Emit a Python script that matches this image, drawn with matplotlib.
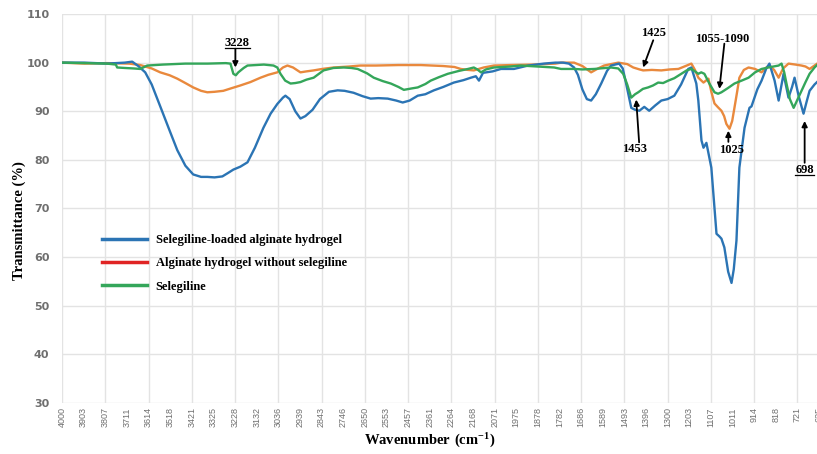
import matplotlib.pyplot as plt
import numpy as np
from matplotlib.lines import Line2D

# FTIR spectra: (wavenumber cm-1, transmittance %)
loaded_gel = np.array([
    [4000, 100], [3900, 100], [3800, 99.8], [3720, 100], [3687, 100.2],
    [3660, 99.3], [3629, 98], [3600, 95.5], [3562, 91], [3520, 86],
    [3486, 82], [3450, 78.8], [3415, 77], [3380, 76.5], [3352, 76.5],
    [3320, 76.4], [3285, 76.6], [3260, 77.3], [3236, 78], [3205, 78.6],
    [3173, 79.5], [3140, 82.5], [3102, 86.6], [3070, 89.5], [3040, 91.5],
    [3015, 92.8], [3004, 93.2], [2985, 92.5], [2960, 90], [2937, 88.5],
    [2915, 89], [2883, 90.3], [2850, 92.5], [2810, 94], [2771, 94.3],
    [2740, 94.2], [2700, 93.8], [2660, 93.1], [2624, 92.6], [2590, 92.7],
    [2548, 92.6], [2510, 92.2], [2481, 91.8], [2450, 92.2], [2414, 93.2],
    [2380, 93.5], [2342, 94.3], [2300, 95], [2253, 95.9], [2210, 96.4],
    [2177, 96.9], [2155, 97.2], [2141, 96.3], [2123, 97.9], [2080, 98.2],
    [2043, 98.7], [1985, 98.7], [1922, 99.4], [1851, 99.8], [1800, 100],
    [1766, 100], [1740, 99.8], [1717, 99], [1700, 97.5], [1680, 94.5],
    [1660, 92.5], [1641, 92.2], [1620, 93.5], [1596, 95.7], [1570, 98.3],
    [1552, 99.4], [1516, 99.8], [1500, 98.8], [1485, 95.7], [1462, 90.7],
    [1445, 90.3], [1426, 90.1], [1404, 90.9], [1382, 90.1], [1355, 91.2],
    [1328, 92.2], [1300, 92.5], [1270, 93.2], [1240, 95.5], [1208, 98.7],
    [1194, 99], [1172, 95.7], [1163, 92.2], [1149, 84], [1140, 82.5],
    [1127, 83.5], [1105, 78.4], [1082, 64.8], [1070, 64.3], [1060, 63.8],
    [1047, 62], [1030, 57], [1015, 54.7], [1005, 57.5], [993, 63.4],
    [980, 78.4], [957, 86.6], [935, 90.7], [926, 91], [900, 94.5],
    [881, 96.3], [860, 98.8], [846, 99.8], [823, 96.3], [805, 92.2],
    [783, 97.7], [761, 92.8], [745, 95], [734, 96.9], [715, 93],
    [694, 89.5], [680, 92], [667, 94.2], [645, 95.5], [627, 96.3],
])

plain_gel = np.array([
    [4000, 100], [3900, 99.8], [3800, 99.9], [3700, 99.8], [3651, 99.5],
    [3600, 98.8], [3562, 98], [3520, 97.4], [3486, 96.7], [3450, 95.8],
    [3415, 94.9], [3380, 94.2], [3352, 93.9], [3320, 94], [3281, 94.2],
    [3240, 94.8], [3205, 95.3], [3160, 96], [3115, 96.9], [3080, 97.5],
    [3040, 98], [3015, 99], [2995, 99.4], [2970, 99], [2937, 98],
    [2910, 98.2], [2878, 98.4], [2840, 98.7], [2789, 99], [2720, 99.2],
    [2669, 99.4], [2600, 99.4], [2500, 99.5], [2400, 99.5], [2300, 99.3],
    [2250, 99.1], [2222, 98.7], [2190, 98.5], [2164, 98.4], [2120, 99],
    [2074, 99.4], [2000, 99.5], [1900, 99.6], [1800, 99.8], [1775, 100],
    [1717, 100], [1680, 99.3], [1641, 98], [1610, 98.8], [1583, 99.4],
    [1520, 100], [1480, 99.7], [1453, 99], [1425, 98.6], [1409, 98.4],
    [1370, 98.5], [1328, 98.4], [1290, 98.6], [1252, 98.7], [1220, 99.3],
    [1194, 99.8], [1178, 98.5], [1163, 96.9], [1140, 95.9], [1118, 96.7],
    [1105, 94], [1091, 91.6], [1075, 90.8], [1060, 90.1], [1048, 89],
    [1038, 87.4], [1024, 86.4], [1012, 88], [1002, 90.7], [990, 94],
    [980, 96.9], [960, 98.5], [939, 99], [910, 98.7], [881, 98],
    [860, 99], [846, 99.4], [825, 98.5], [805, 96.9], [785, 98.8],
    [761, 99.8], [730, 99.6], [703, 99.4], [685, 99.2], [667, 98.7],
    [645, 99.4], [627, 100],
])

selegiline = np.array([
    [4000, 100], [3900, 99.9], [3800, 99.8], [3760, 99.6], [3754, 99],
    [3720, 98.9], [3680, 98.8], [3651, 98.7], [3620, 99.4], [3550, 99.6],
    [3450, 99.8], [3350, 99.8], [3270, 99.9], [3249, 99.8], [3236, 97.7],
    [3225, 97.4], [3214, 98], [3190, 98.9], [3173, 99.4], [3100, 99.6],
    [3057, 99.4], [3040, 99], [3026, 97.7], [3005, 96.3], [2981, 95.7],
    [2960, 95.8], [2937, 96], [2910, 96.5], [2878, 96.9], [2834, 98.4],
    [2790, 98.9], [2744, 99], [2710, 98.9], [2682, 98.7], [2640, 97.8],
    [2610, 96.9], [2570, 96.2], [2534, 95.7], [2500, 95], [2476, 94.4],
    [2440, 94.7], [2414, 94.9], [2380, 95.6], [2356, 96.3], [2320, 97],
    [2280, 97.7], [2230, 98.3], [2190, 98.7], [2164, 99], [2148, 98.6],
    [2132, 98], [2110, 98.6], [2074, 99], [2000, 99.2], [1954, 99.4],
    [1880, 99.2], [1806, 99], [1775, 98.7], [1717, 98.7], [1680, 98.6],
    [1627, 98.7], [1552, 99], [1520, 98.8], [1498, 97.7], [1480, 95.5],
    [1462, 92.8], [1445, 93.5], [1431, 93.9], [1410, 94.6], [1387, 94.9],
    [1365, 95.3], [1342, 95.9], [1320, 95.8], [1297, 96.3], [1270, 96.8],
    [1239, 97.7], [1215, 98.4], [1194, 98.7], [1178, 98.2], [1163, 97.7],
    [1150, 98], [1136, 97.7], [1115, 95.8], [1091, 93.9], [1075, 93.6],
    [1060, 93.9], [1030, 94.8], [1002, 95.7], [970, 96.3], [939, 96.9],
    [910, 98], [881, 98.7], [840, 99.1], [805, 99.4], [792, 99.8],
    [780, 98], [770, 95.7], [755, 92.5], [738, 90.7], [720, 92.5],
    [703, 94.2], [685, 96], [667, 97.7], [645, 99], [627, 99.8],
])

tick_labels = ["4000", "3903", "3807", "3711", "3614", "3518", "3421", "3325",
               "3228", "3132", "3036", "2939", "2843", "2746", "2650", "2553",
               "2457", "2361", "2264", "2168", "2071", "1975", "1878", "1782",
               "1686", "1589", "1493", "1396", "1300", "1203", "1107", "1011",
               "914", "818", "721", "625"]

# peak labels: text, text position, arrow tail, arrow tip, underlined
peaks = [
    ("3228", (3218, 104.1), (3227, 102.8), (3227, 99.0), True),
    ("1425", (1364, 106.0), (1364, 104.6), (1409, 99.0), False),
    ("1055-1090", (1056, 104.9), (1047, 103.9), (1069, 94.6), False),
    ("1453", (1449, 82.3), (1427, 83.6), (1440, 92.4), False),
    ("1025", (1015, 82.1), (1029, 83.7), (1029, 86.0), False),
    ("698", (689, 78.0), (689, 79.4), (689, 88.0), True),
]

blue, orange, green = "#2b74b4", "#e9893d", "#34a65a"
serif = "Liberation Serif"

plt.rcParams["mathtext.fontset"] = "custom"
plt.rcParams["mathtext.rm"] = "Liberation Serif:bold"
plt.rcParams["mathtext.bf"] = "Liberation Serif:bold"

fig = plt.figure(figsize=(8.17, 4.54), dpi=100)
ax = fig.add_axes([62 / 817, 1 - 403 / 454, 757 / 817, 389 / 454])

ax.plot(loaded_gel[:, 0], loaded_gel[:, 1], color=blue, lw=1.7, zorder=4)
ax.plot(plain_gel[:, 0], plain_gel[:, 1], color=orange, lw=1.7, zorder=3)
ax.plot(selegiline[:, 0], selegiline[:, 1], color=green, lw=1.7, zorder=5)

ax.set_xlim(4000, 625)
ax.set_ylim(30, 110)

# category-style axis: labels on every tick, gridlines on every other one
pos = np.linspace(4000, 625, len(tick_labels))
ax.set_xticks(pos[::2], tick_labels[::2])
ax.set_xticks(pos[1::2], tick_labels[1::2], minor=True)
ax.tick_params(axis="x", which="both", length=0, pad=3, rotation=90,
               labelsize=6.5, labelcolor="#6f6f6f")
for lbl in ax.get_xticklabels(which="both"):
    lbl.set_family("Liberation Sans")
ax.set_yticks(np.arange(30, 111, 10))
ax.tick_params(axis="y", length=0, pad=9, labelsize=8, labelcolor="#6f6f6f")
for lbl in ax.get_yticklabels():
    lbl.set_fontweight("bold")
ax.grid(which="major", color="#e3e3e3", lw=1)
for s in ax.spines.values():
    s.set_visible(False)

ax.set_xlabel(r"$\mathrm{Wavenumber\ (cm^{-1})}$", fontsize=10.5)
ax.xaxis.set_label_coords(0.486, -0.075)
ax.set_ylabel("Transmittance (%)", family=serif, fontweight="bold",
              fontsize=10.5)
ax.yaxis.set_label_coords(-0.048, 0.47)

handles = [Line2D([], [], color=blue, lw=2.5),
           Line2D([], [], color="#e02424", lw=2.5),
           Line2D([], [], color=green, lw=2.5)]
names = ["Selegiline-loaded alginate hydrogel",
         "Alginate hydrogel without selegiline",
         "Selegiline"]
ax.legend(handles, names, loc="upper left", bbox_to_anchor=(0.038, 0.463),
          frameon=False, handlelength=3.6, handletextpad=0.7,
          labelspacing=0.9, prop={"family": serif, "weight": "bold", "size": 9})

texts = []
for label, txy, tail, tip, underline in peaks:
    t = ax.text(*txy, label, family=serif, fontweight="bold", fontsize=9,
                ha="center", va="center", zorder=6)
    ax.annotate("", xy=tip, xytext=tail,
                arrowprops=dict(arrowstyle="-|>", color="black", lw=1.3,
                                mutation_scale=8, shrinkA=0, shrinkB=0),
                zorder=6)
    texts.append((t, underline))

fig.canvas.draw()
inv = fig.transFigure.inverted()
for t, underline in texts:
    if not underline:
        continue
    bb = t.get_window_extent()
    (x0, y0), (x1, _) = inv.transform([(bb.x0, bb.y0 + 1), (bb.x1, bb.y0 + 1)])
    fig.add_artist(Line2D([x0, x1], [y0, y0], color="black", lw=0.9))

fig.savefig("out.png", dpi=100)
